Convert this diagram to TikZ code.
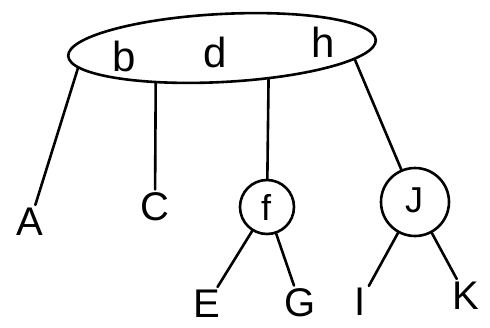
\documentclass[tikz,border=0pt]{standalone}
\usepackage{fontspec}
\setmainfont{Liberation Sans}
\usetikzlibrary{shapes.geometric}
\begin{document}
\begin{tikzpicture}[x=1pt,y=-1pt,
  line width=2.6pt, line cap=round,
  lbl/.style={inner sep=2pt, font=\fontsize{40}{40}\selectfont},
  keytxt/.style={inner sep=0pt, font=\fontsize{42}{42}\selectfont},
  ring/.style={draw, circle, inner sep=0pt}]
\useasboundingbox (0,0) rectangle (490,327);
\node[draw, ellipse, rotate=3, minimum width=308pt, minimum height=68pt] (root) at (222,48) {};
\node[keytxt] (kb) at (124,56) {b};
\node[keytxt] (kd) at (215,52) {d};
\node[keytxt] (kh) at (323,42) {h};
\node[ring, minimum size=54pt] (f) at (267,207) {};
\node[keytxt] (kf) at (266,207) {\fontsize{36}{36}\selectfont f};
\node[ring, minimum width=64pt, minimum height=68pt] (J) at (415,202) {};
\node[keytxt] (kJ) at (414,200) {\fontsize{36}{36}\selectfont J};
\node[lbl] (A) at (30,222) {A};
\node[lbl] (C) at (155,207) {C};
\node[lbl] (E) at (207,304) {E};
\node[lbl] (G) at (300,303) {G};
\node[lbl] (I) at (360,302) {I};
\node[lbl] (K) at (466,296) {K};
\draw (root.185.7) -- (A);
\draw (root.205.3) -- (C);
\draw (root.323.5) -- (f);
\draw (root.352.7) -- (J);
\draw (f) -- (E);
\draw (f) -- (G);
\draw (J) -- (I);
\draw (J) -- (K);
\end{tikzpicture}
\end{document}
